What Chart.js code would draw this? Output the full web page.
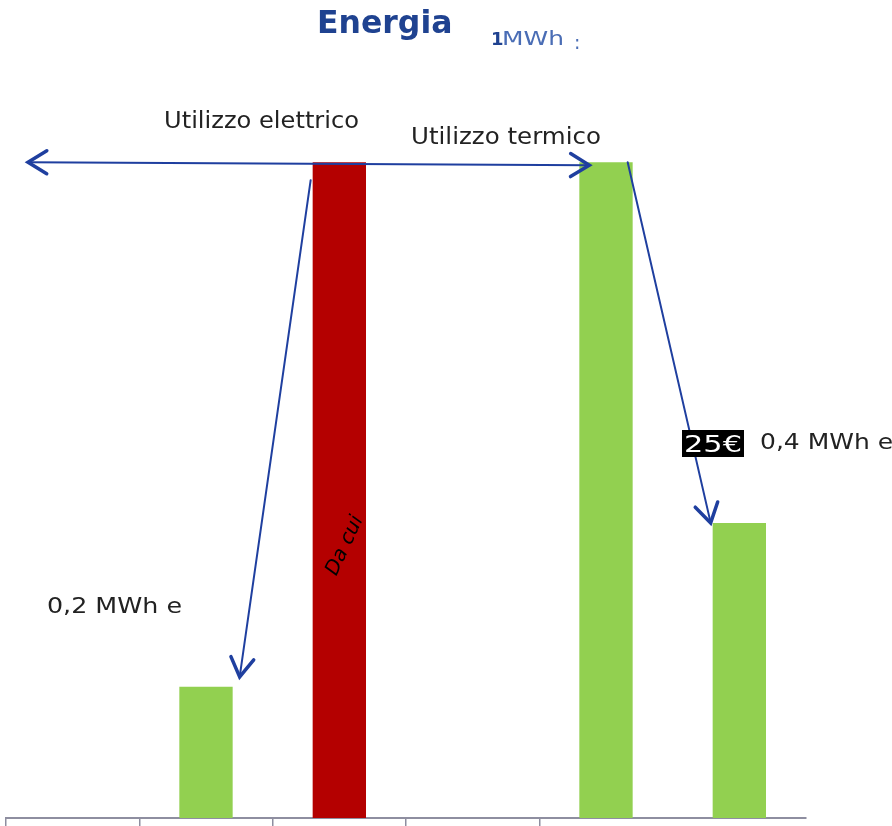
<!DOCTYPE html>
<html>
<head>
<meta charset="utf-8">
<script src="https://cdn.jsdelivr.net/npm/chart.js@4.4.1/dist/chart.umd.min.js"></script>
<style>
  body { margin: 0; background: #fff; }
  #wrap { width: 892px; height: 826px; }
</style>
</head>
<body>
<div id="wrap"><canvas id="barchart" width="892" height="826"></canvas></div>
<script>
// Data (values in MWh)
var categories = ['', '', '', '', '', ''];
var energyValues = [null, 0.2, 1, null, 1, 0.45];
var barColors = ['#92d050', '#92d050', '#b40000', '#92d050', '#92d050', '#92d050'];
var valueLabels = ['0,2 MWh e', '0,4 MWh e'];

var arrowBlue = '#1f3f9f';

function arrowHead(ctx, x1, y1, x2, y2, len) {
    var a = Math.atan2(y2 - y1, x2 - x1);
    ctx.beginPath();
    ctx.moveTo(x2 - len * Math.cos(a - 0.55), y2 - len * Math.sin(a - 0.55));
    ctx.lineTo(x2, y2);
    ctx.lineTo(x2 - len * Math.cos(a + 0.55), y2 - len * Math.sin(a + 0.55));
    ctx.stroke();
}

function arrow(ctx, x1, y1, x2, y2) {
    ctx.lineWidth = 2;
    ctx.beginPath();
    ctx.moveTo(x1, y1);
    ctx.lineTo(x2, y2);
    ctx.stroke();
    ctx.lineWidth = 3.5;
    arrowHead(ctx, x1, y1, x2, y2, 22);
}

// text stretched horizontally to the width it has in the picture
function label(ctx, text, x, y, width) {
    var k = width / ctx.measureText(text).width;
    ctx.save();
    ctx.translate(x, y);
    ctx.scale(k, 1);
    ctx.fillText(text, 0, 0);
    ctx.restore();
}

// Title, arrows and labels drawn on top of the bars
var annotations = {
    id: 'annotations',
    afterDatasetsDraw: function (chart) {
        var ctx = chart.ctx;
        var bars = chart.getDatasetMeta(0).data;
        var area = chart.chartArea;
        var small = bars[1], red = bars[2], tall = bars[4], mid = bars[5];
        ctx.save();
        ctx.strokeStyle = arrowBlue;
        ctx.lineCap = 'round';

        // horizontal double arrow at the 1 MWh line
        var yTop = red.y;
        ctx.lineWidth = 2;
        ctx.beginPath();
        ctx.moveTo(area.left + 22, yTop);
        ctx.lineTo(tall.x - tall.width / 2 + 10, yTop + 3);
        ctx.stroke();
        ctx.lineWidth = 3.5;
        arrowHead(ctx, tall.x, yTop + 3, area.left + 22, yTop, 22);
        arrowHead(ctx, area.left + 22, yTop, tall.x - tall.width / 2 + 10, yTop + 3, 22);

        // red bar -> small green bar
        arrow(ctx, red.x - red.width / 2 - 2, yTop + 18, small.x + small.width / 2 + 7, small.y - 10);
        // tall green bar -> right green bar
        arrow(ctx, tall.x + tall.width / 2 - 5, tall.y, mid.x - mid.width / 2 - 2, mid.y);

        // title
        ctx.textBaseline = 'alphabetic';
        ctx.fillStyle = '#1f4290';
        ctx.font = 'bold 31.5px "DejaVu Sans"';
        ctx.fillText('Energia', 317, 33);
        ctx.font = 'bold 18px "DejaVu Sans"';
        ctx.fillText('1', 491, 45);
        ctx.fillStyle = '#4a6db5';
        ctx.font = '19px "DejaVu Sans"';
        label(ctx, 'MWh', 502, 45, 62);
        ctx.fillText(':', 574, 49);

        // labels
        ctx.fillStyle = '#222';
        ctx.font = '23px "DejaVu Sans"';
        label(ctx, 'Utilizzo elettrico', 164, 128, 195);
        label(ctx, 'Utilizzo termico', 411, 144, 190);
        ctx.font = '22px "DejaVu Sans"';
        label(ctx, valueLabels[0], 47, 613, 135);
        label(ctx, valueLabels[1], 760, 449, 133);

        // 25€ on black
        ctx.fillStyle = '#000';
        ctx.fillRect(682, 430, 62, 27);
        ctx.fillStyle = '#fff';
        ctx.font = '23px "DejaVu Sans"';
        label(ctx, '25€', 684, 452, 58);

        // "Da cui" inside the red bar
        ctx.translate(red.x + 4, 545);
        ctx.rotate(-65 * Math.PI / 180);
        ctx.textAlign = 'center';
        ctx.fillStyle = '#000';
        ctx.font = 'italic 20px "DejaVu Sans"';
        ctx.fillText('Da cui', 0, 7);
        ctx.restore();
    }
};

var ctx = document.getElementById('barchart').getContext('2d');

var myBarChart = new Chart(ctx, {
    type: 'bar',
    data: {
        labels: categories,
        datasets: [{
            data: energyValues,
            backgroundColor: barColors,
            borderWidth: 0,
            barPercentage: 0.4,
            categoryPercentage: 1
        }]
    },
    options: {
        responsive: false,
        animation: false,
        layout: { padding: { left: 6, right: 86, top: 31, bottom: 0 } },
        plugins: {
            legend: { display: false },
            tooltip: { enabled: false }
        },
        scales: {
            x: {
                grid: {
                    drawOnChartArea: false,
                    drawTicks: true,
                    tickLength: 8,
                    lineWidth: 1.5,
                    tickColor: function (c) {
                        return (c.type !== 'tick' || c.index >= 5) ? 'rgba(0,0,0,0)' : '#8e8ea0';
                    }
                },
                border: { display: true, color: '#8e8ea0', width: 2 },
                ticks: { display: false }
            },
            y: {
                display: false,
                min: 0,
                max: 1.2
            }
        }
    },
    plugins: [annotations]
});
</script>
</body>
</html>
